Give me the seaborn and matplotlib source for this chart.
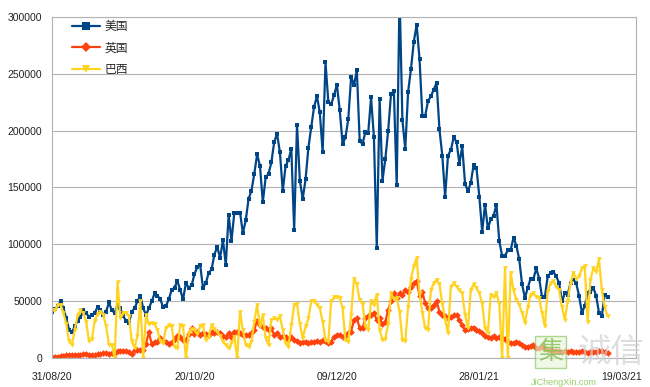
import pandas as pd
import matplotlib
matplotlib.use("Agg")
import matplotlib.pyplot as plt
import seaborn as sns

# daily new cases, starting 31/08/20
us = [41, 43, 46, 50, 44, 35, 25, 23, 28, 33, 36, 42, 40, 36, 38, 40, 45, 42, 38, 41, 49, 42, 40, 47,
      44, 37, 33, 31, 41, 44, 50, 55, 44, 38, 44, 50, 57, 55, 52, 45, 46, 52, 60, 62, 68, 60, 52, 66,
      62, 64, 74, 80, 82, 62,
      66, 75, 78, 91, 98, 88, 104, 82, 126, 103, 128, 128, 128, 110, 121, 140, 147, 162, 179, 169, 137, 159,
      162, 172, 190, 197, 181, 147, 169, 174, 184, 113, 205, 156, 140, 157, 185, 203, 221, 230, 216, 181,
      260, 225, 223, 231, 240, 218, 188,
      194, 210, 247, 240, 253, 191, 188, 199, 198, 229, 194, 97, 228, 156, 175, 200, 232, 235, 152, 320,
      209, 184, 234, 254, 278, 293, 263,
      213, 213, 226, 230, 236, 242, 201, 178, 142, 178, 183, 194, 190, 171, 186, 153, 147, 154, 170, 167,
      142, 111, 135, 114, 122, 125,
      135, 103, 90, 90, 95, 95, 106, 99, 87, 65, 53, 62, 70, 70, 79, 70, 54, 54, 72, 75, 76, 72, 66,
      50, 57, 56, 66, 69, 66, 55, 40, 46, 57, 58, 62, 55, 40, 37, 56, 54]

uk = [1.4, 1.3, 1.5, 1.7, 1.9, 2.5, 2.8, 2.9, 2.5, 2.7, 3.2,
      3.4, 3.5, 3.3, 3.0, 3.1, 3.9, 3.4, 4.3, 4.4, 3.9, 4.4,
      4.9, 6.2, 6.6, 6.0, 6.0, 5.7, 4.0, 7.1, 7.1, 6.9, 6.9,
      12.8, 22.9, 12.6, 14.5, 14.2, 17.5, 15.2, 13.9, 12.9, 13.9, 17.2, 19.7, 18.9, 15.7, 15.9, 21.3,
      26.7, 21.2, 23.0,
      20.6, 22, 21, 20.6, 23.5, 22, 23.5, 22, 20, 19, 22, 19, 23.5, 23, 22, 20.6, 20.6, 20.6, 22, 25,
      33, 29.4, 27.9, 26.5, 25, 26.5, 20.6, 22, 19, 19.5, 19, 16, 19, 16, 15.3, 13, 14.7, 14, 13, 14.7,
      14.1, 15.3, 14.1, 16, 15, 13, 14.7, 19, 20.6, 20.6, 19, 20, 22, 23.5, 33.8, 35,
      26.5, 26.5, 35, 36.8, 38, 39.7, 33.8, 35, 30, 32, 42.6, 50, 57, 53, 57, 55.6, 60, 58,
      63, 66, 68, 55, 58, 48.5, 44, 44, 47, 50, 41, 38, 37, 35, 36, 38, 38, 34, 29, 25, 26, 27, 27, 25,
      24, 22, 20, 19, 17.6, 20,
      17.6, 19, 18, 17, 14.7, 13.5, 13, 14.7, 13, 11.8, 10.3, 10.3, 11, 11.8, 8.8, 8.8, 9.5, 8.8, 7.4,
      7.4, 6.8, 6.8, 6.4, 5.9, 6.2, 5.9,
      6.0, 5.3, 5.2, 5.9, 6.6, 5.5, 4.6, 5.8, 5.9, 5.9, 6.3, 6.6, 5.5, 4.8]

brazil = [42, 42, 47, 47, 40, 30, 15, 12, 25, 38, 42, 40, 32, 15, 17, 33, 39, 41, 38, 28, 12, 12, 0, 67,
          35, 40, 40, 37, 15, 9, 20, 50, 0, 38, 30, 31, 30, 25, 15, 13, 27, 29, 28, 10, 9, 29, 28, 0,
          22, 26, 25, 21,
          28, 29, 16, 19, 29, 26, 23, 20, 14.7, 11.8, 8.8, 13, 19, 0, 41, 25, 11.8, 10.3, 14.7, 32,
          47, 28, 38, 17.6, 11.8, 34, 35, 34, 37, 25, 13, 10.3, 29, 47, 48, 30, 17.6, 28, 35, 50,
          50, 47, 44, 32, 16, 14.7, 50, 53.5, 53.5, 53, 44, 16, 14.7, 38, 70, 65,
          51, 48, 28, 25, 50, 47, 56, 25, 16, 17, 30, 57, 52, 53, 41, 16, 15, 45, 70, 81, 88, 57,
          40, 26.5, 25, 60, 66, 69, 65, 48, 34, 22, 63, 66, 63, 60, 57, 38, 26.5, 60, 65, 62, 57, 48,
          26.5, 22,
          56, 54, 57, 48, 0, 79, 0, 75, 60, 51, 47, 40, 31, 45, 56, 57, 54, 53, 40, 28, 59, 66, 68, 63,
          60, 45,
          34, 50, 66, 75, 70, 72, 79, 81, 32, 69, 79, 76, 87, 60, 45, 37]

countries = ["美国", "英国", "巴西"]
colors = ["#004586", "#ff420e", "#ffd320"]
marker_shapes = ["s", "D", "v"]
tick_labels = ["31/08/20", "20/10/20", "09/12/20", "28/01/21", "19/03/21"]

dates = pd.date_range("2020-08-31", periods=len(us), freq="D")
df = pd.concat([
    pd.DataFrame({"date": dates, "cases": [v * 1000 for v in vals], "country": name})
    for name, vals in zip(countries, [us, uk, brazil])
])

sns.set_style("white")
plt.rcParams["font.family"] = ["Liberation Sans", "DejaVu Sans"]

fig, ax = plt.subplots(figsize=(6.5, 3.87), dpi=100)
fig.subplots_adjust(left=0.08, right=0.9785, bottom=0.0742, top=0.957)

sns.lineplot(data=df, x="date", y="cases", hue="country", style="country",
             hue_order=countries, style_order=countries,
             palette=dict(zip(countries, colors)),
             markers=dict(zip(countries, marker_shapes)), dashes=False,
             linewidth=1.6, markersize=3.4, markeredgewidth=0, ax=ax)

grid_col = "#b3b3b3"
ax.set_ylim(0, 300000)
ax.set_yticks(range(0, 300001, 50000))
ax.set_yticklabels([str(v) for v in range(0, 300001, 50000)])
ax.yaxis.grid(True, color=grid_col, linewidth=0.8)
ax.set_axisbelow(True)

tick_pos = pd.to_datetime(tick_labels, format="%d/%m/%y")
ax.set_xlim(dates[0], dates[0] + pd.Timedelta(days=205))
ax.set_xticks(tick_pos)
ax.set_xticklabels(tick_labels)
ax.tick_params(axis="x", length=4, width=0.8, color=grid_col, pad=6, labelsize=7.5, labelcolor="#222222")
ax.tick_params(axis="y", length=0, pad=7, labelsize=7.5, labelcolor="#222222")
ax.set_xlabel("")
ax.set_ylabel("")
for s in ax.spines.values():
    s.set_color(grid_col)
    s.set_linewidth(0.8)

handles, labels = ax.get_legend_handles_labels()
ax.legend(handles, labels, loc="upper left", bbox_to_anchor=(0.095, 0.975),
          bbox_transform=fig.transFigure, frameon=False, handlelength=2.3,
          labelspacing=0.7, handletextpad=0.4, markerscale=1.5,
          prop={"family": ["Noto Sans CJK SC", "DejaVu Sans"], "size": 8.5})

# watermark in the lower right corner
fig.text(0.847, 0.09, "集", fontsize=18, color="#7fbf4d", alpha=0.8,
         family=["Noto Sans CJK SC"], ha="center", va="center",
         bbox=dict(boxstyle="square,pad=0.12", fc="#e6f4d9", ec="#7fbf4d", alpha=0.6))
fig.text(0.94, 0.09, "诚信", fontsize=24, color="#d0d0d0", alpha=0.7,
         family=["Noto Sans CJK SC"], ha="center", va="center")
fig.text(0.868, 0.012, "JiChengXin.com", fontsize=6.5, color="#8cc85a", alpha=0.9,
         ha="center", va="center")

plt.savefig("out.png", dpi=100)
plt.close()
